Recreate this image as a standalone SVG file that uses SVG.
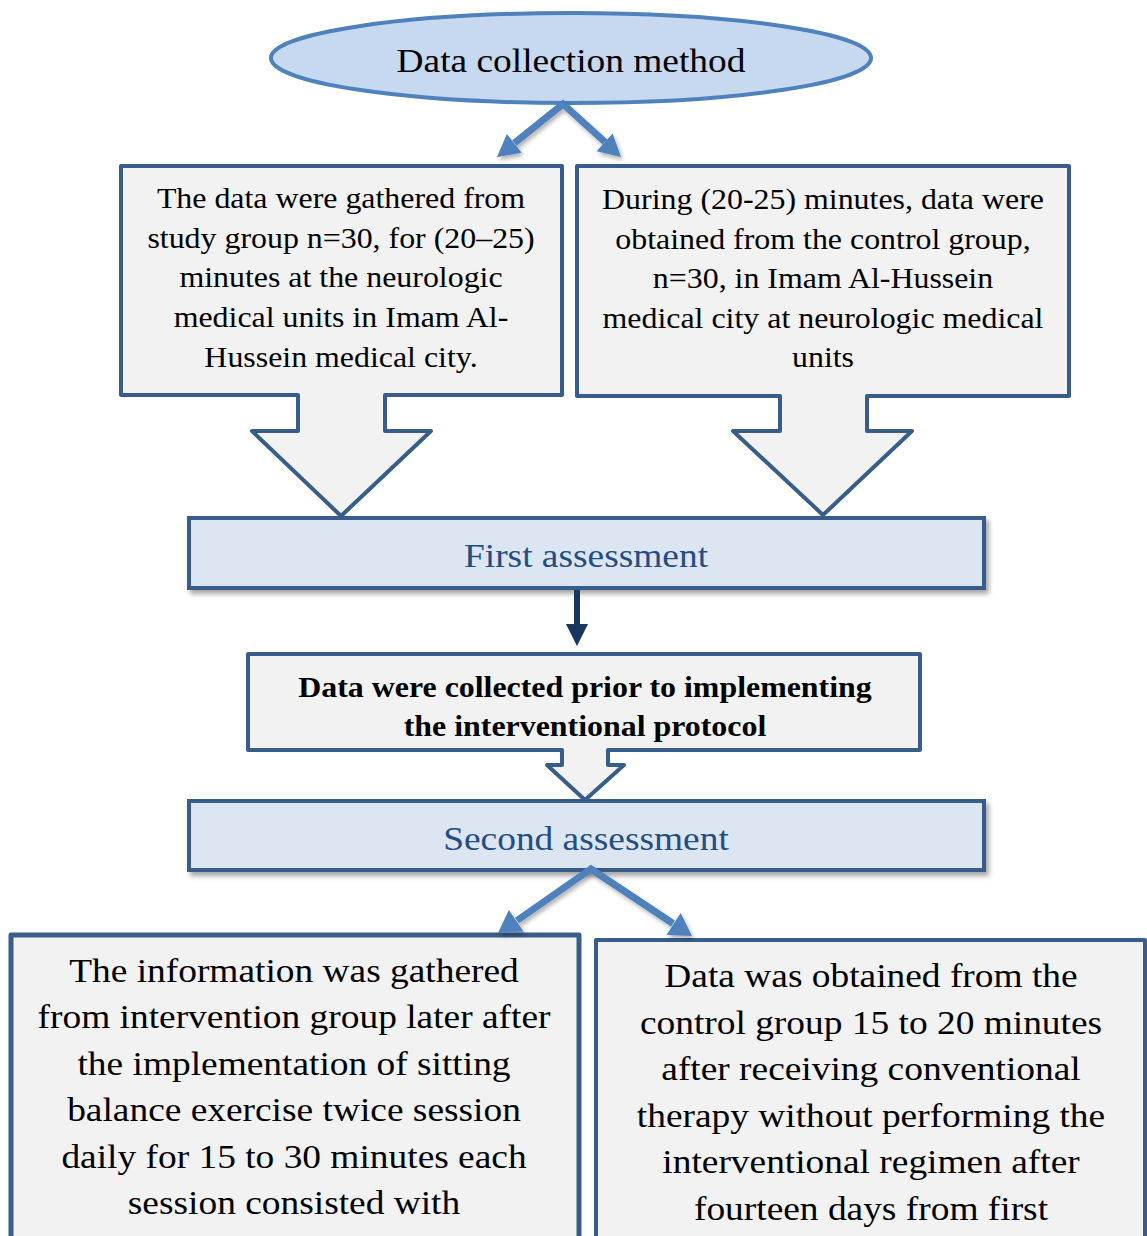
<svg xmlns="http://www.w3.org/2000/svg" width="1147" height="1236" viewBox="0 0 1147 1236">
<defs>
<style>
.box{fill:#f2f2f2;stroke:#385d8a;stroke-width:4;stroke-linejoin:round}
.bbox{fill:#f2f2f2;stroke:#385d8a;stroke-width:5;stroke-linejoin:round}
.abox{fill:#dce6f2;stroke:#385d8a;stroke-width:4}
.t{font-family:"Liberation Serif","Times New Roman",serif;text-anchor:middle;fill:#000}
.tb{font-family:"Liberation Serif","Times New Roman",serif;text-anchor:middle;fill:#000;font-weight:bold}
.ta{font-family:"Liberation Serif","Times New Roman",serif;text-anchor:middle;fill:#244d84}
.blue{fill:none;stroke:#4f81bd;stroke-width:7;stroke-linejoin:miter}
.bhead{fill:#4f81bd}
</style>
<filter id="sh" x="-5%" y="-20%" width="110%" height="150%">
<feDropShadow dx="3" dy="4" stdDeviation="2.5" flood-color="#000" flood-opacity="0.35"/>
</filter>
<filter id="sh2" x="-20%" y="-20%" width="140%" height="140%">
<feDropShadow dx="2" dy="3" stdDeviation="2" flood-color="#000" flood-opacity="0.3"/>
</filter>
</defs>

<g id="title">
<ellipse cx="571" cy="58" rx="300" ry="45" fill="#c6d9f1" stroke="#4f81bd" stroke-width="4"/>
<text class="t" font-size="34" transform="translate(571 72) scale(1.1 1)">Data collection method</text>
</g>

<g id="study-group">
<path class="box" d="M121,166 H562 V395 H385 V431 H431 L341,516 L252,431 H298 V395 H121 Z"/>
<text class="t" font-size="29" transform="translate(341 208) scale(1.1 1)"><tspan x="0" y="0">The data were gathered from</tspan><tspan x="0" y="39.7">study group n=30, for (20–25)</tspan><tspan x="0" y="79.4">minutes at the neurologic</tspan><tspan x="0" y="119.1">medical units in Imam Al-</tspan><tspan x="0" y="158.8">Hussein medical city.</tspan></text>
</g>

<g id="control-group">
<path class="box" d="M577,166 H1069 V396 H867 V431 H912 L823,515 L733,431 H780 V396 H577 Z"/>
<text class="t" font-size="29" transform="translate(823 209) scale(1.1 1)"><tspan x="0" y="0">During (20-25) minutes, data were</tspan><tspan x="0" y="39.6">obtained from the control group,</tspan><tspan x="0" y="79.2">n=30, in Imam Al-Hussein</tspan><tspan x="0" y="118.8">medical city at neurologic medical</tspan><tspan x="0" y="158.4">units</tspan></text>
</g>

<g id="first-assessment">
<rect class="abox" x="189" y="518" width="795" height="70" filter="url(#sh)"/>
<text class="ta" font-size="34" transform="translate(586 567) scale(1.1 1)">First assessment</text>
</g>

<g id="prior-data">
<path class="box" d="M248,654 H920 V750 H608 V765 H624 L585,800 L547,765 H562 V750 H248 Z"/>
<text class="tb" font-size="29" transform="translate(585 697) scale(1.1 1)"><tspan x="0" y="0">Data were collected prior to implementing</tspan><tspan x="0" y="39">the interventional protocol</tspan></text>
</g>

<g id="second-assessment">
<rect class="abox" x="189" y="801" width="795" height="69" filter="url(#sh)"/>
<text class="ta" font-size="34" transform="translate(586 850) scale(1.1 1)">Second assessment</text>
</g>

<g id="intervention-after">
<rect class="bbox" x="11" y="935" width="568" height="330"/>
<text class="t" font-size="34" transform="translate(294 982) scale(1.1 1)"><tspan x="0" y="0">The information was gathered</tspan><tspan x="0" y="46.4">from intervention group later after</tspan><tspan x="0" y="92.8">the implementation of sitting</tspan><tspan x="0" y="139.2">balance exercise twice session</tspan><tspan x="0" y="185.6">daily for 15 to 30 minutes each</tspan><tspan x="0" y="232">session consisted with</tspan></text>
</g>

<g id="control-after">
<rect class="box" x="596" y="940" width="549" height="330"/>
<text class="t" font-size="34" transform="translate(871 987) scale(1.1 1)"><tspan x="0" y="0">Data was obtained from the</tspan><tspan x="0" y="46.6">control group 15 to 20 minutes</tspan><tspan x="0" y="93.2">after receiving conventional</tspan><tspan x="0" y="139.8">therapy without performing the</tspan><tspan x="0" y="186.4">interventional regimen after</tspan><tspan x="0" y="233">fourteen days from first</tspan></text>
</g>

<g id="connectors">
<g filter="url(#sh2)">
<path class="blue" d="M514.5,143 L563,104 L605,142"/>
<polygon class="bhead" points="497,157 521.7,152.8 506.9,134"/>
<polygon class="bhead" points="621,157 596.6,151.2 612.6,133.4"/>
</g>
<g>
<line x1="577" y1="590" x2="577" y2="626" stroke="#17375e" stroke-width="6"/>
<polygon points="566,624 588,624 577,646" fill="#17375e"/>
</g>
<g filter="url(#sh2)">
<path class="blue" d="M517,920.5 L591,869 L673,923.5"/>
<polygon class="bhead" points="498,933 523.5,931.5 508.9,909.9"/>
<polygon class="bhead" points="692,936 666.5,934.9 680.7,913.1"/>
</g>
</g>
</svg>
